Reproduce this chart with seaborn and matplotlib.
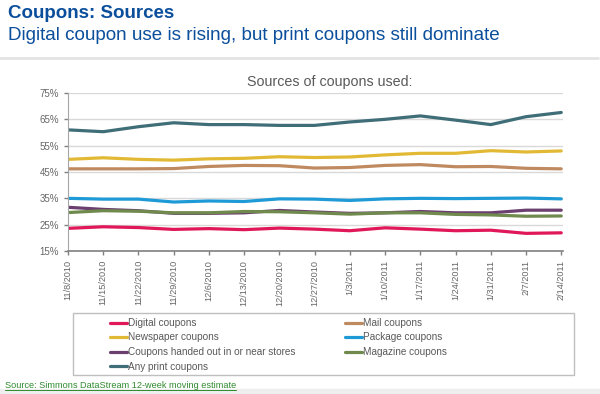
import pandas as pd
import seaborn as sns
import matplotlib.pyplot as plt
from matplotlib.lines import Line2D
from matplotlib.patches import Rectangle

# weekly dates on the x axis
dates = ["11/8/2010", "11/15/2010", "11/22/2010", "11/29/2010", "12/6/2010",
         "12/13/2010", "12/20/2010", "12/27/2010", "1/3/2011", "1/10/2011",
         "1/17/2011", "1/24/2011", "1/31/2011", "2/7/2011", "2/14/2011"]

# percentage of people using each coupon source
digital = [23.6, 24.2, 23.9, 23.2, 23.5, 23.1, 23.7, 23.3, 22.7, 23.8, 23.3, 22.7, 22.9, 21.7, 21.9]
mail = [46.2, 46.2, 46.2, 46.3, 47.1, 47.5, 47.4, 46.5, 46.7, 47.5, 47.8, 47.0, 47.1, 46.4, 46.2]
newspaper = [49.8, 50.4, 49.8, 49.5, 50.0, 50.2, 50.8, 50.5, 50.7, 51.5, 52.1, 52.1, 53.1, 52.6, 53.0]
package = [35.0, 34.7, 34.7, 33.6, 34.0, 33.8, 34.8, 34.7, 34.2, 34.8, 35.0, 34.9, 35.0, 35.1, 34.8]
stores = [31.6, 30.8, 30.3, 29.3, 29.3, 29.5, 30.4, 29.8, 29.3, 29.5, 30.0, 29.5, 29.5, 30.5, 30.5]
magazine = [29.6, 30.3, 30.1, 29.5, 29.5, 30.0, 29.9, 29.5, 29.0, 29.5, 29.5, 28.9, 28.7, 28.2, 28.3]
any_print = [61.0, 60.3, 62.2, 63.7, 63.0, 63.0, 62.7, 62.7, 64.0, 65.0, 66.3, 64.7, 63.0, 66.0, 67.6]

series = {
    "Digital coupons": digital,
    "Mail coupons": mail,
    "Newspaper coupons": newspaper,
    "Package coupons": package,
    "Coupons handed out in or near stores": stores,
    "Magazine coupons": magazine,
    "Any print coupons": any_print,
}

colours = {
    "Digital coupons": "#E0185A",
    "Mail coupons": "#C08A60",
    "Newspaper coupons": "#E2B935",
    "Package coupons": "#1E9AD6",
    "Coupons handed out in or near stores": "#6B3F6F",
    "Magazine coupons": "#6F8A4C",
    "Any print coupons": "#3F6E78",
}

# build a long-form table for seaborn
rows = []
for name, values in series.items():
    for i, v in enumerate(values):
        rows.append({"week": i, "source": name, "percent": v})
df = pd.DataFrame(rows)

sns.set_style("white")
plt.rcParams["font.family"] = ["Liberation Sans", "DejaVu Sans"]

W, H = 600, 394
fig = plt.figure(figsize=(6, 3.94), dpi=100)

# plot area in pixel positions of the reference
ax = fig.add_axes([68 / W, 1 - 251 / H, (563 - 68) / W, (251 - 93) / H])

sns.lineplot(
    data=df,
    x="week",
    y="percent",
    hue="source",
    palette=colours,
    linewidth=2.3,
    legend=False,
    ax=ax,
)

ax.set_xlim(0, 14.05)
ax.set_ylim(15, 75)
ax.set_yticks([15, 25, 35, 45, 55, 65, 75])
ax.set_yticklabels([f"{t}%" for t in [15, 25, 35, 45, 55, 65, 75]])
ax.set_xticks(range(len(dates)))
ax.set_xticklabels(dates, rotation=90,
                   family=["Liberation Sans Narrow", "Liberation Sans", "DejaVu Sans"])
ax.tick_params(axis="both", labelcolor="#666666", color="#808080",
               length=3, width=1, direction="out", bottom=True, left=True)
ax.tick_params(axis="y", labelsize=7)
ax.tick_params(axis="x", labelsize=6.6)
ax.set_xlabel("")
ax.set_ylabel("")

# light horizontal gridlines
ax.yaxis.grid(True, color="#D9D9D9", linewidth=1)
ax.set_axisbelow(True)
for side in ["top", "right"]:
    ax.spines[side].set_visible(False)
ax.spines["left"].set_color("#A6A6A6")
ax.spines["bottom"].set_color("#808080")
ax.spines["bottom"].set_linewidth(1.2)

# chart title inside the panel
fig.text(330 / W, 1 - 82 / H, "Sources of coupons used:", ha="center", va="center",
         fontsize=10.3, color="#595959")

# slide titles
blue = "#0B4F9C"
fig.text(8 / W, 1 - 13 / H, "Coupons: Sources", ha="left", va="center",
         fontsize=13.5, fontweight="bold", color=blue)
fig.text(8 / W, 1 - 36 / H, "Digital coupon use is rising, but print coupons still dominate",
         ha="left", va="center", fontsize=13.6, color=blue)

# grey rule under the titles and strip at the bottom
fig.add_artist(Line2D([0, 598 / W], [1 - 58 / H, 1 - 58 / H], color="#E3E3E3", linewidth=2))
fig.add_artist(Rectangle((0, 0), 1, 5 / H, color="#EEEEEE", transform=fig.transFigure))

# legend box
fig.add_artist(Rectangle((73 / W, 1 - 375 / H), (574 - 73) / W, (375 - 313) / H,
                         fill=False, edgecolor="#BFBFBF", linewidth=1,
                         transform=fig.transFigure))
order = ["Digital coupons", "Newspaper coupons", "Coupons handed out in or near stores",
         "Any print coupons", "Mail coupons", "Package coupons", "Magazine coupons"]
handles = [Line2D([], [], color=colours[n], linewidth=2.3) for n in order]
fig.legend(handles, order, loc="upper left", bbox_to_anchor=(102 / W, 1 - 310 / H),
           ncol=2, frameon=False, fontsize=7.2, labelcolor="#595959",
           handlelength=1.7, handletextpad=0.1, columnspacing=5.0,
           labelspacing=0.45, borderpad=0.3)

# source note, underlined
src = fig.text(5 / W, 1 - 385 / H, "Source: Simmons DataStream 12-week moving estimate",
               ha="left", va="center", fontsize=6.6, color="#2E8B2E")
fig.canvas.draw()
bb = src.get_window_extent().transformed(fig.transFigure.inverted())
fig.add_artist(Line2D([bb.x0, bb.x1], [bb.y0 - 0.002, bb.y0 - 0.002], color="#2E8B2E", linewidth=0.7))

plt.savefig("out.png", dpi=100)
